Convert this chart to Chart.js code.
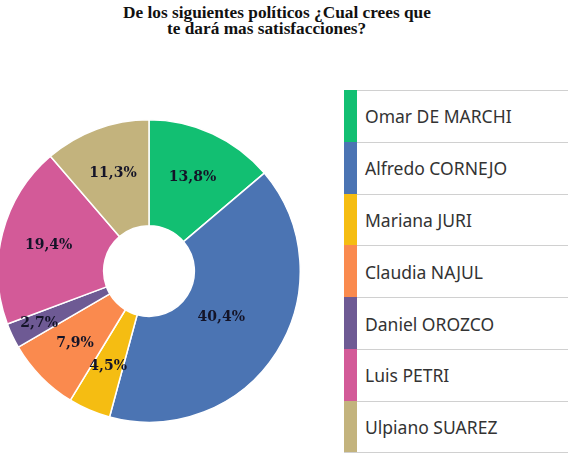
<!DOCTYPE html>
<html><head><meta charset="utf-8">
<script src="https://cdn.jsdelivr.net/npm/chart.js@4"></script>
<style>
html,body{margin:0;padding:0;background:#fff;}
body{width:568px;height:471px;position:relative;overflow:hidden;}
.t{position:absolute;font-family:"Liberation Serif","DejaVu Serif",serif;font-weight:bold;font-size:17.3px;color:#111;white-space:nowrap;line-height:18px;}
#pie{position:absolute;left:-3px;top:117px;width:304px;height:308px;}
#legend{position:absolute;left:344px;top:90px;width:224px;}
.row{position:relative;height:51.8px;border-top:1px solid #d0d0d0;box-sizing:border-box;}
.row:last-child{border-bottom:1px solid #d0d0d0;}
.bar{position:absolute;left:0;top:-1px;bottom:0;width:13px;}
.lab{position:absolute;left:21px;top:0;bottom:0;display:flex;align-items:center;font-family:"Noto Sans","Open Sans",sans-serif;font-size:17.5px;color:#333;}
</style></head>
<body>
<div class="t" style="left:123px;top:4px;">De los siguientes políticos ¿Cual crees que</div>
<div class="t" style="left:167px;top:20px;">te dará mas satisfacciones?</div>
<div id="pie"><canvas id="c"></canvas></div>
<div id="legend"></div>
<script>
const categories = ["Omar DE MARCHI","Alfredo CORNEJO","Mariana JURI","Claudia NAJUL","Daniel OROZCO","Luis PETRI","Ulpiano SUAREZ"];
const values = [13.8, 40.4, 4.5, 7.9, 2.7, 19.4, 11.3];
const valueLabels = ["13,8%","40,4%","4,5%","7,9%","2,7%","19,4%","11,3%"];
const colors = ["#12bf72","#4b74b3","#f5bd12","#fa8a4e","#6e5a94","#d35a98","#c3b37d"];

const leg = document.getElementById('legend');
categories.forEach((name,i)=>{
  const r=document.createElement('div');r.className='row';
  const b=document.createElement('div');b.className='bar';b.style.background=colors[i];
  const l=document.createElement('div');l.className='lab';l.textContent=name;
  r.appendChild(b);r.appendChild(l);leg.appendChild(r);
});

const labelPlugin = {
  id:'sliceLabels',
  afterDatasetsDraw(chart){
    const ctx=chart.ctx;
    const meta=chart.getDatasetMeta(0);
    ctx.save();
    ctx.font='bold 14px "DejaVu Serif", serif';
    ctx.fillStyle='#141428';
    ctx.textAlign='center';ctx.textBaseline='middle';
    meta.data.forEach((arc,i)=>{
      const p=arc.getProps(['x','y','startAngle','endAngle','innerRadius','outerRadius'],true);
      const a=(p.startAngle+p.endAngle)/2;
      const frac = values[i] > 30 ? 0.38 : (values[i] < 3 ? 0.72 : 0.55);
      const r=p.innerRadius+(p.outerRadius-p.innerRadius)*frac;
      ctx.fillText(valueLabels[i], p.x+Math.cos(a)*r, p.y+Math.sin(a)*r);
    });
    ctx.restore();
  }
};

new Chart(document.getElementById('c'),{
  type:'doughnut',
  data:{labels:categories,datasets:[{data:values,backgroundColor:colors,borderColor:'#ffffff',borderWidth:1.5}]},
  options:{
    responsive:true,maintainAspectRatio:false,animation:false,
    cutout:'30%',
    layout:{padding:0},
    plugins:{legend:{display:false},tooltip:{enabled:false},title:{display:false}}
  },
  plugins:[labelPlugin]
});
</script>
</body></html>
